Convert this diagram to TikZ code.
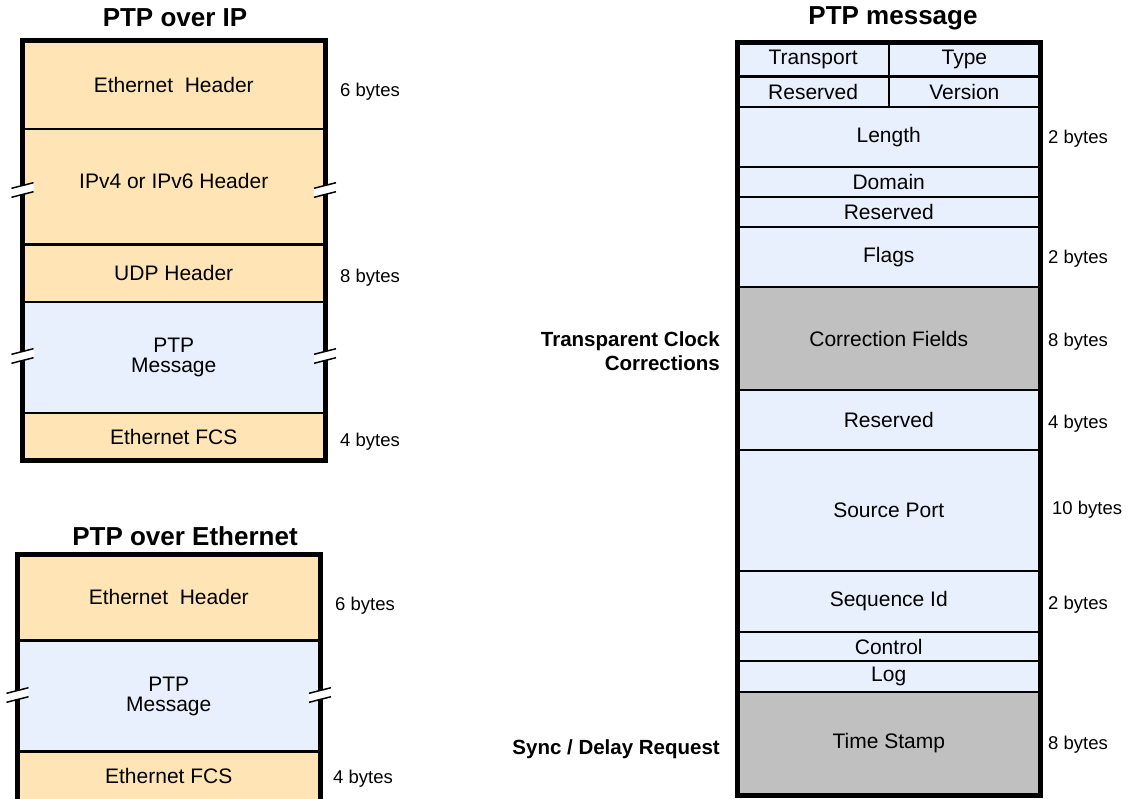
\documentclass[tikz,border=0pt]{standalone}
\usepackage{fontspec}
\setmainfont{Liberation Sans}
\usepackage{xcolor}
\usetikzlibrary{positioning}
\definecolor{hdrcol}{RGB}{255,228,181}
\definecolor{msgcol}{RGB}{232,240,254}
\definecolor{stampcol}{RGB}{192,192,192}

\tikzset{
	field/.style={draw, line width=2.5pt, outer sep=0pt, inner sep=0pt,
		minimum width=302.5pt, align=center, font=\fontsize{21}{20.5}\selectfont},
	hdr/.style={field, fill=hdrcol},
	msg/.style={field, fill=msgcol},
	stamp/.style={field, fill=stampcol},
	half/.style={minimum width=151.25pt},
	frame/.style={line width=5pt},
	ttl/.style={font=\fontsize{26}{30}\selectfont\bfseries},
	nbytes/.style={anchor=west, inner sep=0pt, yshift=-2pt, font=\fontsize{18.5}{22}\selectfont},
	side/.style={anchor=east, inner sep=0pt, align=right, font=\fontsize{20.5}{24.5}\selectfont\bfseries},
	brk/.pic={
		\fill[white] (-11,-1.7) -- (11,-7.3) -- (11,1.7) -- (-11,7.3) -- cycle;
		\draw[line width=1.5pt] (-11,-1.7) -- (11,-7.3);
		\draw[line width=1.5pt] (-11,7.3) -- (11,1.7);
	}
}

\begin{document}
\begin{tikzpicture}[x=1pt, y=-1pt] %%%{{{
	 \useasboundingbox (0,0) rectangle (1130,798);

	 % PTP over IP
	 \node[ttl] (iptitle) at (175,18) {PTP over IP};
	 \node[hdr, minimum height=88.5pt, anchor=north west] (ipeth) at (22.5,40.5) {Ethernet\ \ Header};
	 \node[hdr, minimum height=115.5pt, text depth=12pt, below=0pt of ipeth] (ipip) {IPv4 or IPv6 Header};
	 \node[hdr, minimum height=57.5pt, below=0pt of ipip] (ipudp) {UDP Header};
	 \node[msg, minimum height=111pt, below=0pt of ipudp] (ipmsg) {PTP\\Message};
	 \node[hdr, minimum height=47.5pt, below=0pt of ipmsg] (ipfcs) {Ethernet FCS};
	 \draw[frame] (ipeth.north west) rectangle (ipfcs.south east);
	 \node[nbytes] at (340,90) {6 bytes};
	 \node[nbytes] at (340,276) {8 bytes};
	 \node[nbytes] at (340,440) {4 bytes};

	 % PTP over Ethernet
	 \node[ttl] (ethtitle) at (185,536) {PTP over Ethernet};
	 \node[hdr, minimum height=86.7pt, anchor=north west] (etheth) at (17.5,554) {Ethernet\ \ Header};
	 \node[msg, minimum height=111pt, below=0pt of etheth] (ethmsg) {PTP\\Message};
	 \node[hdr, minimum height=49.3pt, below=0pt of ethmsg] (ethfcs) {Ethernet FCS};
	 \draw[frame] (etheth.north west) rectangle (ethfcs.south east);
	 \node[nbytes] at (335,604) {6 bytes};
	 \node[nbytes] at (333,777) {4 bytes};

	 \foreach \x/\y in {22.5/190, 325/190, 22.5/356, 325/356, 17.5/695, 320/695}
		\pic at (\x,\y) {brk};

	 % PTP message
	 \node[ttl] (msgtitle) at (893,18) {PTP message};
	 \node[msg, half, minimum height=34.7pt, anchor=north west] (transport) at (737.5,42) {Transport};
	 \node[msg, half, minimum height=34.7pt, right=0pt of transport] (type) {Type};
	 \node[msg, half, minimum height=30.3pt, below=0pt of transport] (resvA) {Reserved};
	 \node[msg, half, minimum height=30.3pt, right=0pt of resvA] (version) {Version};
	 \node[msg, minimum height=60pt, anchor=north west] (length) at (resvA.south west) {Length};
	 \node[msg, minimum height=30pt, below=0pt of length] (domain) {Domain};
	 \node[msg, minimum height=30pt, below=0pt of domain] (resvB) {Reserved};
	 \node[msg, minimum height=60pt, below=0pt of resvB] (flags) {Flags};
	 \node[stamp, minimum height=103pt, below=0pt of flags] (corr) {Correction Fields};
	 \node[msg, minimum height=60pt, below=0pt of corr] (resvC) {Reserved};
	 \node[msg, minimum height=121pt, below=0pt of resvC] (srcport) {Source Port};
	 \node[msg, minimum height=61pt, below=0pt of srcport] (seqid) {Sequence Id};
	 \node[msg, minimum height=29pt, below=0pt of seqid] (control) {Control};
	 \node[msg, minimum height=31pt, below=0pt of control] (log) {Log};
	 \node[stamp, minimum height=103pt, below=0pt of log] (tstamp) {Time Stamp};
	 \draw[frame] (transport.north west) rectangle (tstamp.south east);

	 \node[nbytes] at (1048,137) {2 bytes};
	 \node[nbytes] at (1048,257) {2 bytes};
	 \node[nbytes] at (1048,340) {8 bytes};
	 \node[nbytes] at (1048,422) {4 bytes};
	 \node[nbytes] at (1052,508) {10 bytes};
	 \node[nbytes] at (1048,603) {2 bytes};
	 \node[nbytes] at (1048,743) {8 bytes};

	 \node[side] (tcc) at (720,351) {Transparent Clock\\Corrections};
	 \node[side] (sync) at (720,749) {Sync / Delay Request};
      \end{tikzpicture}
\end{document}
